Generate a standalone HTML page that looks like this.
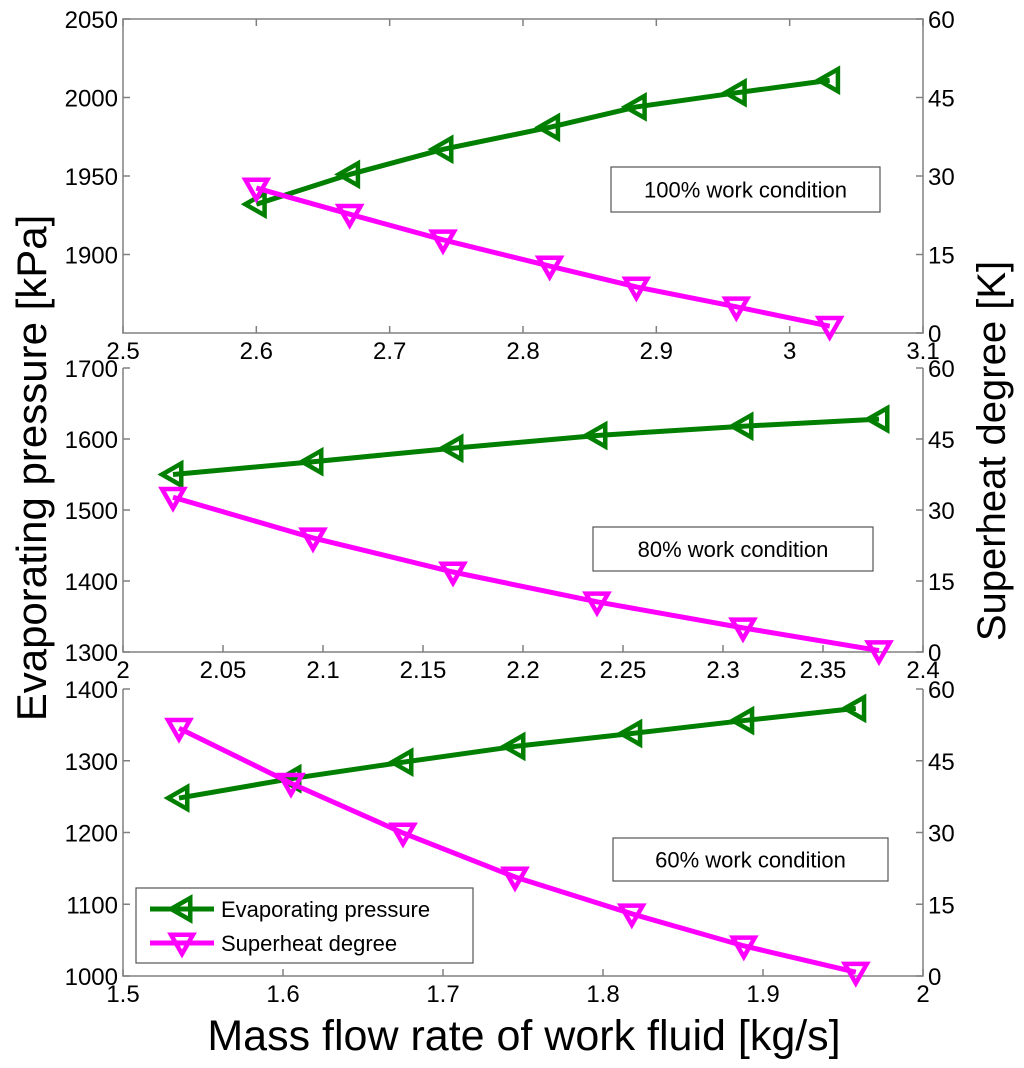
<!DOCTYPE html>
<html><head><meta charset="utf-8"><style>
body{margin:0;background:#fff;}
svg{display:block;font-family:"Liberation Sans",Arial,sans-serif;}
</style></head><body>
<svg id="chart" width="1024" height="1068" xmlns="http://www.w3.org/2000/svg"></svg>
<script>
// Panel 1 (100%)
const p1X = [2.6, 2.67, 2.74, 2.82, 2.885, 2.96, 3.03];
const p1Pressure = [1932, 1951, 1967, 1981, 1994, 2003, 2011];
const p1Superheat = [27.7, 22.7, 17.8, 12.8, 8.8, 5.0, 1.3];
const p1XTicks = ["2.5","2.6","2.7","2.8","2.9","3","3.1"];
const p1YTicks = [1900, 1950, 2000, 2050];
// Panel 2 (80%)
const p2X = [2.025, 2.095, 2.165, 2.237, 2.31, 2.378];
const p2Pressure = [1550, 1568, 1587, 1605, 1618, 1628];
const p2Superheat = [32.7, 24.1, 16.9, 10.6, 5.1, 0.3];
const p2XTicks = ["2","2.05","2.1","2.15","2.2","2.25","2.3","2.35","2.4"];
const p2YTicks = [1300, 1400, 1500, 1600, 1700];
// Panel 3 (60%)
const p3X = [1.535, 1.605, 1.675, 1.745, 1.818, 1.888, 1.958];
const p3Pressure = [1248, 1275, 1298, 1320, 1338, 1356, 1373];
const p3Superheat = [51.8, 40.3, 29.9, 20.7, 13.0, 6.3, 0.8];
const p3XTicks = ["1.5","1.6","1.7","1.8","1.9","2"];
const p3YTicks = [1000, 1100, 1200, 1300, 1400];
const rightTicks = [0, 15, 30, 45, 60];

const NS = "http://www.w3.org/2000/svg";
const svg = document.getElementById("chart");
function mk(tag, attrs, parent, text) {
  const e = document.createElementNS(NS, tag);
  for (const k in attrs) e.setAttribute(k, attrs[k]);
  if (text !== undefined) e.textContent = text;
  (parent || svg).appendChild(e);
  return e;
}
const L = 123, R = 923;
const FS = 24;
const panels = [
  {name:"100", top:19, bot:333, xmin:2.5, xmax:3.1, ymin:1850, ymax:2050, xs:p1X, pr:p1Pressure, sh:p1Superheat, xt:p1XTicks, yt:p1YTicks, label:"100% work condition", box:[611,167,269,45]},
  {name:"80", top:368, bot:652, xmin:2.0, xmax:2.4, ymin:1300, ymax:1700, xs:p2X, pr:p2Pressure, sh:p2Superheat, xt:p2XTicks, yt:p2YTicks, label:"80% work condition", box:[593,527,280,44]},
  {name:"60", top:689, bot:976, xmin:1.5, xmax:2.0, ymin:1000, ymax:1400, xs:p3X, pr:p3Pressure, sh:p3Superheat, xt:p3XTicks, yt:p3YTicks, label:"60% work condition", box:[613,838,275,43]}
];
function leftTri(g, x, y, s) {
  return mk("polygon", {points:`${x-s},${y} ${x+s*0.75},${y-s} ${x+s*0.75},${y+s}`, fill:"none", stroke:"#007f00", "stroke-width":4.5}, g);
}
function downTri(g, x, y, s) {
  return mk("polygon", {points:`${x-s},${y-s*0.75} ${x+s},${y-s*0.75} ${x},${y+s}`, fill:"none", stroke:"#ff00ff", "stroke-width":4.5}, g);
}
panels.forEach(p => {
  const g = mk("g", {});
  
  
  const xs = v => L + (v - p.xmin) / (p.xmax - p.xmin) * (R - L);
  const yl = v => p.bot - (v - p.ymin) / (p.ymax - p.ymin) * (p.bot - p.top);
  const yr = v => p.bot - v / 60 * (p.bot - p.top);
  if (p.name === "100") {
    mk("rect", {x:L, y:p.top, width:R-L, height:p.bot-p.top, fill:"none", stroke:"#808080", "stroke-width":1.5}, g);
  } else {
    mk("polyline", {points:`${L},${p.top} ${L},${p.bot} ${R},${p.bot} ${R},${p.top}`, fill:"none", stroke:"#808080", "stroke-width":1.5}, g);
  }
  const nx = p.xt.length;
  p.xt.forEach((t, i) => {
    const x = L + i / (nx - 1) * (R - L);
    mk("line", {x1:x, x2:x, y1:p.bot, y2:p.bot-7, stroke:"#808080", "stroke-width":1.5}, g);
    if (p.name === "100") mk("line", {x1:x, x2:x, y1:p.top, y2:p.top+7, stroke:"#808080", "stroke-width":1.5}, g);
    const tx = mk("text", {x:x, y:p.bot+26, "font-size":FS, "text-anchor":"middle", fill:"#000"}, g, t);
    
    
  });
  p.yt.forEach(v => {
    const y = yl(v);
    mk("line", {x1:L, x2:L+7, y1:y, y2:y, stroke:"#808080", "stroke-width":1.5}, g);
    const tx = mk("text", {x:L-5, y:y+9, "font-size":FS, "text-anchor":"end", fill:"#000"}, g, String(v));
    
    
  });
  rightTicks.forEach(v => {
    const y = yr(v);
    mk("line", {x1:R, x2:R-7, y1:y, y2:y, stroke:"#808080", "stroke-width":1.5}, g);
    const tx = mk("text", {x:R+5, y:y+9, "font-size":FS, "text-anchor":"start", fill:"#000"}, g, String(v));
    
    
  });
  const pl = mk("polyline", {points:p.xs.map((x,i)=>`${xs(x)},${yl(p.pr[i])}`).join(" "), fill:"none", stroke:"#007f00", "stroke-width":5}, g);
  
  
  p.xs.forEach((x,i) => {
    const m = leftTri(g, xs(x), yl(p.pr[i]), 11);
    
    
  });
  const sl = mk("polyline", {points:p.xs.map((x,i)=>`${xs(x)},${yr(p.sh[i])}`).join(" "), fill:"none", stroke:"#ff00ff", "stroke-width":5}, g);
  
  
  p.xs.forEach((x,i) => {
    const m = downTri(g, xs(x), yr(p.sh[i]), 11);
    
    
  });
  const b = p.box;
  const lb = mk("g", {}, g);
  
  
  mk("rect", {x:b[0], y:b[1], width:b[2], height:b[3], fill:"#fff", stroke:"#555", "stroke-width":1.2}, lb);
  mk("text", {x:b[0]+b[2]/2, y:b[1]+b[3]/2+8, "font-size":22, "text-anchor":"middle", fill:"#000"}, lb, p.label);
});
const lg = mk("g", {});


mk("rect", {x:136, y:888, width:337, height:75, fill:"#fff", stroke:"#555", "stroke-width":1.2}, lg);
mk("line", {x1:150, x2:214, y1:909, y2:909, stroke:"#007f00", "stroke-width":5}, lg);
leftTri(lg, 182, 909, 11);
mk("text", {x:221, y:917, "font-size":22, fill:"#000"}, lg, "Evaporating pressure");
mk("line", {x1:150, x2:214, y1:943, y2:943, stroke:"#ff00ff", "stroke-width":5}, lg);
downTri(lg, 182, 943, 11);
mk("text", {x:221, y:951, "font-size":22, fill:"#000"}, lg, "Superheat degree");
const yt = mk("text", {x:0, y:0, "font-size":42, "text-anchor":"middle", transform:"translate(46,468) rotate(-90)", fill:"#000"}, svg, "Evaporating pressure [kPa]");


const rt = mk("text", {x:0, y:0, "font-size":40, "text-anchor":"middle", transform:"translate(1005,451) rotate(-90)", fill:"#000"}, svg, "Superheat degree [K]");


const xt = mk("text", {x:524, y:1050, "font-size":43, "text-anchor":"middle", fill:"#000"}, svg, "Mass flow rate of work fluid [kg/s]");


</script>
</body></html>
